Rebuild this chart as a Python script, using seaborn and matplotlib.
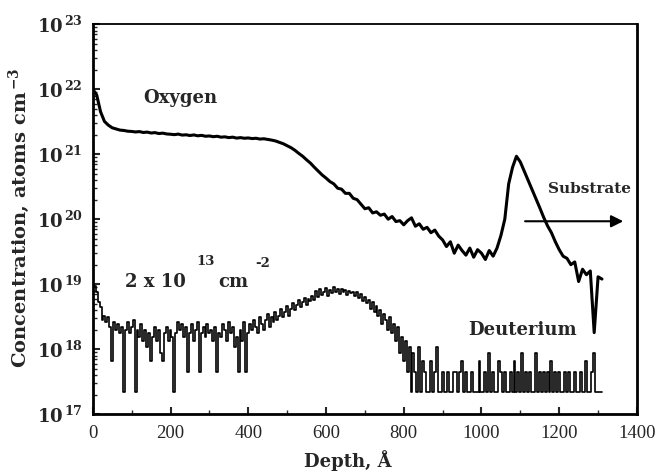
import numpy as np
import pandas as pd
import matplotlib
matplotlib.use("Agg")
import matplotlib.pyplot as plt
import seaborn as sns

# SIMS depth profile: oxygen and deuterium in the film

# oxygen, concentration in units of 1e20 atoms/cm3, one reading every 10 A
OXY_STEP = 10
oxygen = [
    100, 82, 45, 32, 28, 25.5, 24.5, 23.5, 23.2, 22.6,          # 0-90
    22.4, 22.0, 22.3, 21.6, 21.9, 21.2, 21.5, 20.8, 21.1, 20.5,  # 100-190
    20.3, 20.0, 20.4, 19.7, 19.9, 19.4, 19.8, 19.2, 19.5, 18.9,  # 200-290
    19.1, 18.6, 18.9, 18.3, 18.5, 18.0, 18.3, 17.7, 18.0, 17.6,  # 300-390
    17.8, 17.4, 17.6, 17.1, 17.3, 16.9, 16.5, 16.0, 15.2, 14.5,  # 400-490
    13.5, 12.6, 11.5, 10.3, 9.3, 8.2, 7.3, 6.3, 5.5, 4.8,        # 500-590
    4.3, 3.8, 3.5, 3.0, 2.9, 2.5, 2.5, 2.1, 2.0, 1.7,            # 600-690
    1.45, 1.5, 1.25, 1.3, 1.15, 1.2, 1.0, 1.1, 0.92, 0.95,       # 700-790
    0.82, 0.95, 1.05, 0.78, 0.85, 0.7, 0.75, 0.62, 0.68, 0.55,   # 800-890
    0.48, 0.38, 0.45, 0.30, 0.40, 0.33, 0.28, 0.36, 0.26, 0.34,  # 900-990
    0.30, 0.24, 0.33, 0.27, 0.36, 0.56, 1.0, 3.5, 6.3, 9.3,      # 1000-1090
    7.6, 5.5, 4.0, 2.9, 2.1, 1.5, 1.07, 0.79, 0.62, 0.45,        # 1100-1190
    0.34, 0.27, 0.25, 0.20, 0.22, 0.11, 0.17, 0.14, 0.16, 0.018, # 1200-1290
    0.13, 0.12,                                                   # 1300-1310
]
OXY_UNIT = 1e20

# deuterium, raw counts every 5 A (one count ~ 2.2e17 atoms/cm3)
D_STEP = 5
D_PER_COUNT = 2.2e17
deuterium_counts = [
    45, 42, 35, 24, 20, 13, 15, 12, 14, 10, 3, 12, 9, 11, 8, 10, 1, 9, 12, 8,          # 0-95
    10, 13, 1, 9, 7, 11, 6, 9, 5, 8, 3, 7, 10, 6, 9, 4, 3, 8, 10, 6,                   # 100-195
    9, 7, 1, 8, 12, 9, 11, 7, 10, 2, 8, 11, 6, 9, 12, 2, 8, 10, 7, 11,                 # 200-295
    8, 9, 6, 10, 2, 8, 7, 11, 9, 6, 12, 8, 10, 5, 7, 2, 9, 6, 12, 2,                   # 300-395
    8, 11, 9, 13, 10, 8, 14, 11, 9, 13, 16, 10, 14, 12, 17, 13, 15, 19, 14, 17,        # 400-495
    21, 15, 19, 23, 18, 22, 26, 20, 24, 28, 22, 27, 25, 30, 26, 36, 29, 38, 31, 35,    # 500-595
    40, 30, 37, 33, 41, 34, 38, 32, 39, 35, 37, 31, 36, 33, 35, 30, 34, 28, 32, 25,    # 600-695
    29, 23, 26, 19, 24, 17, 21, 15, 18, 11, 16, 13, 9, 14, 8, 11, 6, 10, 4, 7,         # 700-795
    3, 6, 2, 5, 1, 4, 2, 1, 5, 1, 3, 2, 1, 1, 3, 1, 2, 5, 1, 1,                        # 800-895
    2, 1, 1, 2, 1, 1, 2, 2, 1, 2, 3, 1, 2, 1, 1, 2, 1, 1, 1, 3,                        # 900-995
    1, 1, 2, 1, 4, 1, 2, 1, 1, 3, 2, 1, 2, 1, 1, 2, 1, 3, 1, 2,                        # 1000-1095
    1, 4, 1, 2, 1, 2, 1, 1, 4, 1, 2, 1, 2, 1, 2, 1, 3, 1, 2, 1,                        # 1100-1195
    2, 1, 1, 2, 1, 2, 1, 1, 2, 1, 1, 2, 1, 1, 3, 1, 1, 2, 4, 1,                        # 1200-1295
    1, 1, 1,                                                                            # 1300-1310
]

x_ticks = [0, 200, 400, 600, 800, 1000, 1200, 1400]
y_exponents = [17, 18, 19, 20, 21, 22, 23]

df_o = pd.DataFrame({
    "depth": np.arange(len(oxygen)) * OXY_STEP,
    "conc": np.array(oxygen) * OXY_UNIT,
})
df_d = pd.DataFrame({
    "depth": np.arange(len(deuterium_counts)) * D_STEP,
    "conc": np.array(deuterium_counts) * D_PER_COUNT,
})

sns.set_theme(style="white")
plt.rcParams["font.family"] = ["DejaVu Serif"]
plt.rcParams["mathtext.fontset"] = "dejavuserif"

fig = plt.figure(figsize=(6.58, 4.75), dpi=100)
ax = fig.add_axes([0.141, 0.128, 0.827, 0.821])

sns.lineplot(data=df_o, x="depth", y="conc", ax=ax, color="black",
             linewidth=2.2, estimator=None, sort=False)
sns.lineplot(data=df_d, x="depth", y="conc", ax=ax, color="black",
             linewidth=1.2, estimator=None, sort=False, drawstyle="steps-mid")

ax.set_yscale("log")
ax.set_xlim(0, 1400)
ax.set_ylim(1e17, 1e23)

# ticks
ax.set_xticks(x_ticks)
ax.set_xticks(range(0, 1401, 100), minor=True)
ax.set_xticklabels([str(v) for v in x_ticks], fontsize=13.5, family="Liberation Serif")
ax.set_yticks([10.0 ** e for e in y_exponents])
ax.set_yticklabels([r"$\mathbf{10}^{\,\mathbf{%d}}$" % e for e in y_exponents], fontsize=13)
ax.tick_params(axis="x", which="major", pad=8)
ax.tick_params(axis="y", which="major", pad=7)
ax.tick_params(axis="both", which="major", direction="in", length=5, width=1.5,
               left=True, bottom=True, top=False, right=False)
ax.tick_params(axis="both", which="minor", direction="in", length=3, width=1,
               left=True, bottom=True, top=False, right=False)

for side in ["left", "bottom", "right"]:
    ax.spines[side].set_linewidth(2.0)
ax.spines["top"].set_linewidth(1.3)
for s in ax.spines.values():
    s.set_color("black")

ax.set_xlabel("Depth, Å", fontsize=13, fontweight="bold")
ax.xaxis.set_label_coords(0.469, -0.092)
ax.set_ylabel(r"Concentration, atoms cm$^{\,\mathbf{-3}}$", fontsize=14, fontweight="bold")
ax.yaxis.set_label_coords(-0.112, 0.503)

# annotations
ax.text(226, 7.2e21, "Oxygen", fontsize=13, fontweight="bold", ha="center", va="center")
ax.text(1105, 1.95e18, "Deuterium", fontsize=13, fontweight="bold", ha="center", va="center")
ax.text(1279, 2.9e20, "Substrate", fontsize=11, fontweight="bold", ha="center", va="center")
ax.annotate("", xy=(1372, 9.3e19), xytext=(1105, 9.3e19),
            arrowprops=dict(arrowstyle="-|>", color="black", lw=1.5,
                            mutation_scale=18))
ax.text(160, 1.1e19, "2 x 10", fontsize=13, fontweight="bold", ha="center", va="center")
ax.text(290, 2.2e19, "13", fontsize=9.5, fontweight="bold", ha="center", va="center")
ax.text(362, 1.1e19, "cm", fontsize=13, fontweight="bold", ha="center", va="center")
ax.text(436, 2.1e19, "-2", fontsize=9.5, fontweight="bold", ha="center", va="center")

fig.savefig("out.png", dpi=100)
